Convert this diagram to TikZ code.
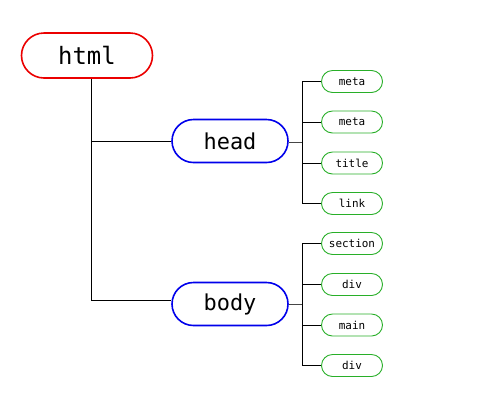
\documentclass[tikz,border=0pt]{standalone}
\usepackage{fontspec}
\setmonofont{DejaVu Sans Mono}
\usetikzlibrary{calc}
\definecolor{bgreen}{RGB}{40,175,40}
\definecolor{bred}{RGB}{235,0,0}
\definecolor{bblue}{RGB}{0,0,235}
\definecolor{stubgray}{RGB}{70,70,70}
\tikzset{
  rootbox/.style={draw=bred, line width=1.6bp, fill=white, minimum width=131bp, minimum height=45bp, rounded corners=22.5bp, font=\ttfamily\fontsize{24}{24}\selectfont, inner sep=0pt},
  midbox/.style={draw=bblue, line width=1.6bp, fill=white, minimum width=116bp, minimum height=43bp, rounded corners=21.5bp, font=\ttfamily\fontsize{22}{22}\selectfont, inner sep=0pt},
  leafbox/.style={draw=bgreen, line width=0.9bp, fill=white, minimum width=61bp, minimum height=22bp, rounded corners=11bp, font=\ttfamily\fontsize{11}{11}\selectfont, inner sep=0pt},
  link/.style={draw=black, line width=0.9bp},
  stub/.style={draw=stubgray, line width=1.8bp},
}
\begin{document}
\begin{tikzpicture}[x=1bp,y=-1bp]
\useasboundingbox (0,0) rectangle (500,400);
\node[rootbox] (html) at (87,55.5) {html};
\node[midbox] (head) at (230,141) {head};
\node[midbox] (body) at (230,304) {body};
\node[leafbox] (m1) at (352,81.5) {meta};
\node[leafbox] (m2) at (352,122) {meta};
\node[leafbox] (t) at (352,163) {title};
\node[leafbox] (l) at (352,203.5) {link};
\node[leafbox] (s) at (352,243.5) {section};
\node[leafbox] (d1) at (352,284.5) {div};
\node[leafbox] (mn) at (352,325) {main};
\node[leafbox] (d2) at (352,365.5) {div};
\coordinate (hx) at ($(html.south)+(4,0)$);
\coordinate (hd) at (302,142.5);
\coordinate (bd) at (302,304.5);
\draw[link] (hx) |- (head.west);
\draw[link] (hx) |- ($(body.west)+(0,-4)$);
\draw[stub] (head.east |- hd) -- (hd);
\draw[stub] (body.east |- bd) -- (bd);
\draw[link] (m1.west) -| (hd |- l.west) -- (l.west);
\draw[link] (m2.west) -- (m2.west -| hd);
\draw[link] (t.west) -- (t.west -| hd);
\draw[link] (s.west) -| (bd |- d2.west) -- (d2.west);
\draw[link] (d1.west) -- (d1.west -| bd);
\draw[link] (mn.west) -- (mn.west -| bd);
\end{tikzpicture}
\end{document}
